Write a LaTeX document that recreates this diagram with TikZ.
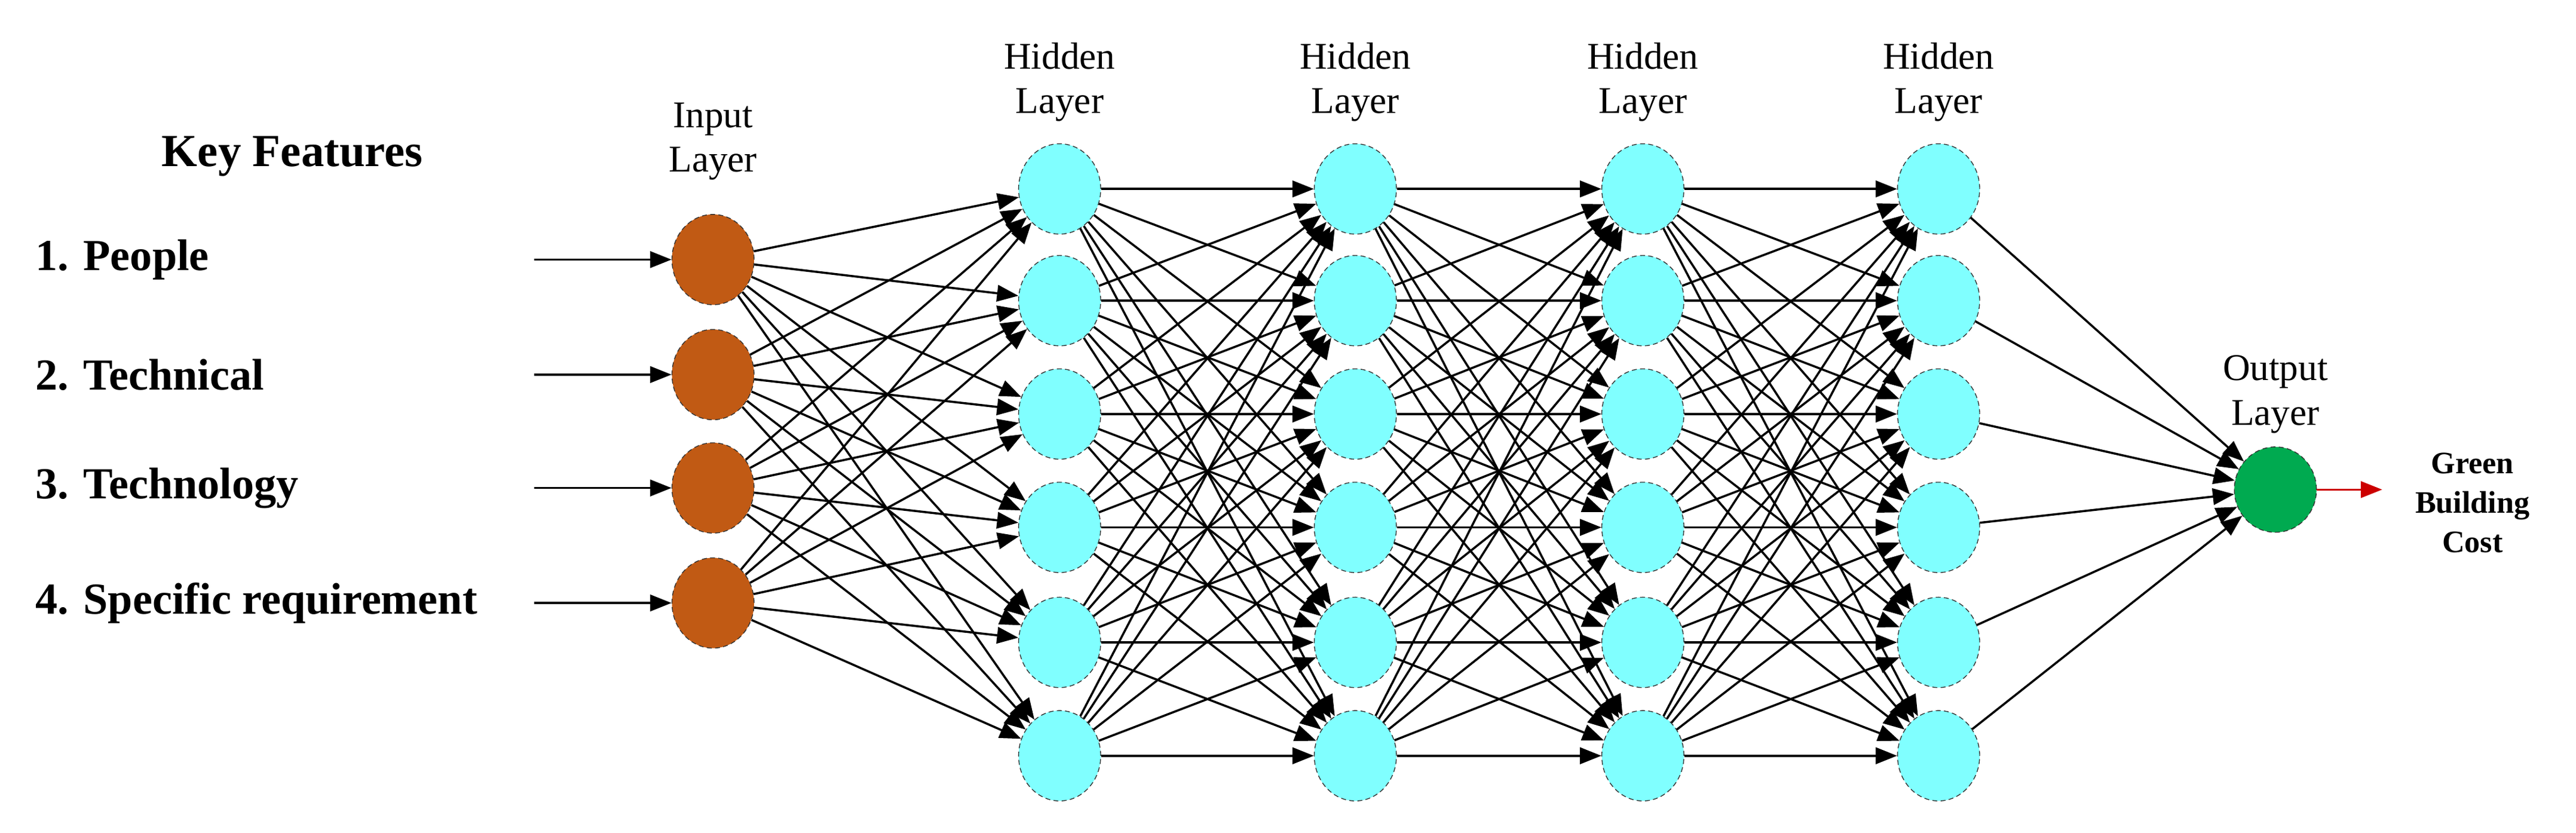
\documentclass[tikz,border=0pt]{standalone}
\usepackage{fontspec}
\setmainfont{Liberation Serif}
\usetikzlibrary{shapes.geometric,arrows.meta}
\begin{document}
\begin{tikzpicture}[x=1pt,y=-1pt,
  neu/.style={ellipse,draw=black!80,densely dashed,line width=0.5pt,minimum width=50pt,minimum height=55pt,inner sep=0pt},
  inp/.style={neu,fill={rgb,255:red,193;green,90;blue,20}},
  hid/.style={neu,fill={rgb,255:red,128;green,255;blue,255}},
  outn/.style={neu,minimum height=52pt,fill={rgb,255:red,0;green,170;blue,80}},
  con/.style={line width=1.3pt,-{Triangle[length=13pt,width=10pt]}},
  lbl/.style={font=\fontsize{23}{27}\selectfont,align=center},
  feat/.style={font=\bfseries\fontsize{27}{30}\selectfont,anchor=west}]
\useasboundingbox (0,0) rectangle (1568,507);
\foreach \i/\y in {1/158,2/228,3/297,4/367}{
  \node[inp] (i\i) at (434,\y) {};
  \coordinate (s\i) at (325,\y);
  \draw[con] (s\i) -- (i\i);
}
\foreach \l/\x in {1/645,2/825,3/1000,4/1180}{
  \foreach \j/\y in {1/115,2/183,3/252,4/321,5/391,6/460}{
    \node[hid] (h\l\j) at (\x,\y) {};
  }
  \node[lbl] at (\x,50) {Hidden\\Layer};
}
\node[outn] (o) at (1385,298) {};
\foreach \i in {1,...,4}\foreach \j in {1,...,6}{\draw[con] (i\i) -- (h1\j);}
\foreach \a/\b in {1/2,2/3,3/4}\foreach \i in {1,...,6}\foreach \j in {1,...,6}{\draw[con] (h\a\i) -- (h\b\j);}
\foreach \j in {1,...,6}{\draw[con] (h4\j) -- (o);}
\coordinate (g) at (1450,298);
\draw[line width=1.3pt,red!80!black,-{Triangle[length=13pt,width=10pt]}] (o) -- (g);
\node[lbl] at (434,86) {Input\\Layer};
\node[lbl] at (1385,240) {Output\\Layer};
\node[font=\bfseries\fontsize{19}{24}\selectfont,align=center] at (1505,306) {Green\\Building\\Cost};
\node[font=\bfseries\fontsize{28}{30}\selectfont] at (178,95) {Key Features};
\node[feat] at (18,158) {1. People};
\node[feat] at (18,228) {2. Technical};
\node[feat] at (18,297) {3. Technology};
\node[feat] at (18,367) {4. Specific requirement};
\end{tikzpicture}
\end{document}
